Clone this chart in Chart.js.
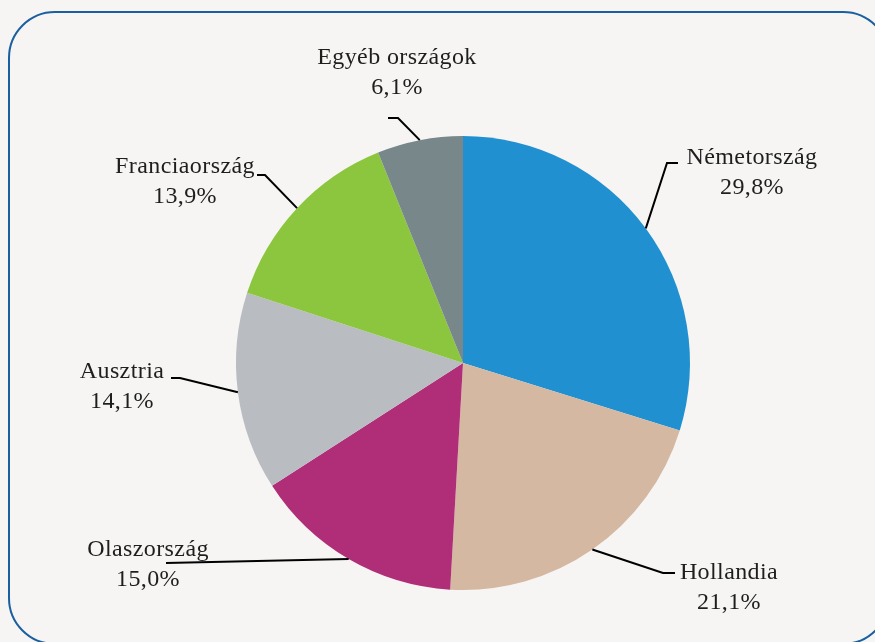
<!DOCTYPE html>
<html>
<head>
<meta charset="utf-8">
<script src="https://cdn.jsdelivr.net/npm/chart.js@4/dist/chart.umd.min.js"></script>
<style>
  html, body { margin: 0; padding: 0; background: #f6f5f4; overflow: hidden; }
  #frame {
    position: absolute; left: 8px; top: 11px; width: 882px; height: 634px;
    box-sizing: border-box; border: 2.5px solid #1a5f9f; border-radius: 47px;
  }
  #chart-area { position: absolute; left: 0; top: 0; }
</style>
</head>
<body>
<div id="frame"></div>
<canvas id="chart-area" width="875" height="642"></canvas>
<script>
// data
const countries = ['Németország', 'Hollandia', 'Olaszország', 'Ausztria', 'Franciaország', 'Egyéb országok'];
const shares = [29.8, 21.1, 15.0, 14.1, 13.9, 6.1];
const colors = ['#2190d0', '#d5b8a2', '#b02d77', '#b9bdc2', '#8cc63f', '#77878a'];

// leader line elbow / end and text centre, relative to the pie centre
const labelLayout = [
  { elbow: [204, -200], end: [215, -200], text: [289, -205] },
  { elbow: [200, 210], end: [212, 210], text: [266, 210] },
  { elbow: [-297, 200], end: [-297, 200], text: [-315, 187] },
  { elbow: [-283, 15], end: [-292, 15], text: [-341, 9] },
  { elbow: [-198, -188], end: [-206, -188], text: [-278, -196] },
  { elbow: [-65, -245], end: [-75, -245], text: [-66, -305] }
];

const pctText = v => v.toFixed(1).replace('.', ',') + '%';

const leaderLabels = {
  id: 'leaderLabels',
  afterDatasetsDraw(chart) {
    const ctx = chart.ctx;
    const meta = chart.getDatasetMeta(0);
    ctx.save();
    meta.data.forEach((arc, i) => {
      const mid = (arc.startAngle + arc.endAngle) / 2;
      const sx = arc.x + Math.cos(mid) * arc.outerRadius;
      const sy = arc.y + Math.sin(mid) * arc.outerRadius;
      const l = labelLayout[i];
      ctx.strokeStyle = '#000';
      ctx.lineWidth = 2;
      ctx.beginPath();
      ctx.moveTo(sx, sy);
      ctx.lineTo(arc.x + l.elbow[0], arc.y + l.elbow[1]);
      ctx.lineTo(arc.x + l.end[0], arc.y + l.end[1]);
      ctx.stroke();
      ctx.fillStyle = '#1e1e1e';
      ctx.font = '24px "Liberation Serif", serif';
      ctx.letterSpacing = '0.4px';
      ctx.textAlign = 'center';
      ctx.textBaseline = 'middle';
      const tx = arc.x + l.text[0], ty = arc.y + l.text[1];
      ctx.fillText(chart.data.labels[i], tx, ty);
      ctx.fillText(pctText(shares[i]), tx, ty + 30);
    });
    ctx.restore();
  }
};

window.onload = function() {
  let ctx = document.getElementById('chart-area').getContext('2d');
  new Chart(ctx, {
    type: 'pie',
    data: {
      labels: countries,
      datasets: [{
        data: shares,
        backgroundColor: colors,
        borderWidth: 0
      }]
    },
    options: {
      responsive: false,
      animation: false,
      layout: { padding: { left: 236, right: 185, top: 136, bottom: 52 } },
      plugins: {
        legend: { display: false },
        tooltip: { enabled: false }
      }
    },
    plugins: [leaderLabels]
  });
};
</script>
</body>
</html>
